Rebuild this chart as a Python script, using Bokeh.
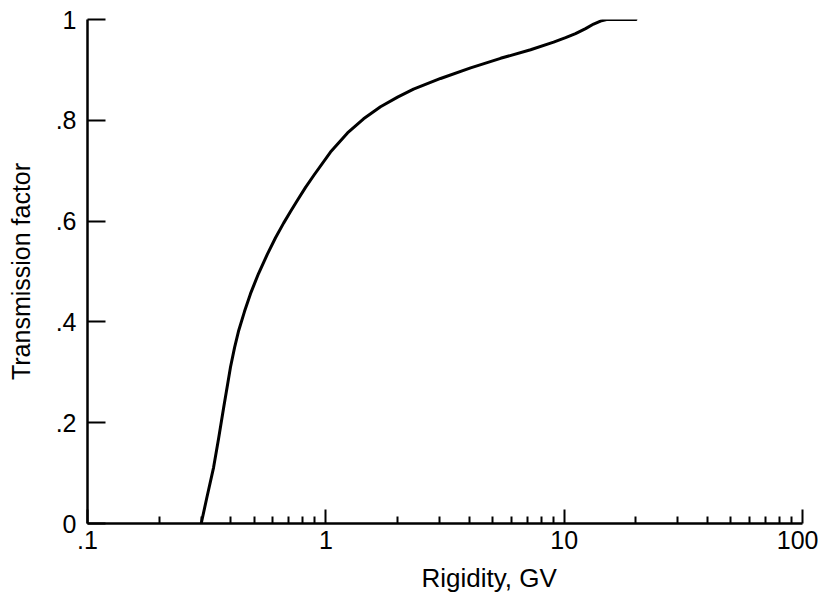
from bokeh.plotting import figure
from bokeh.models import Range1d, FixedTicker, Title
from bokeh.embed import file_html
from bokeh.resources import INLINE

# Data
rigidity = [0.30, 0.317, 0.338, 0.355, 0.373, 0.387, 0.398, 0.414, 0.431, 0.456,
            0.483, 0.522, 0.568, 0.615, 0.665, 0.711, 0.759, 0.822, 0.891, 1.046,
            1.233, 1.440, 1.696, 2.00, 2.333, 3.03, 4.05, 5.41, 7.23, 9.03,
            10.14, 11.16, 12.30, 13.29, 14.21, 15.06, 20.0]
transmission = [0.0, 0.052, 0.111, 0.169, 0.231, 0.276, 0.310, 0.349, 0.383, 0.421,
                0.456, 0.496, 0.534, 0.567, 0.596, 0.619, 0.641, 0.667, 0.691, 0.737,
                0.775, 0.803, 0.827, 0.846, 0.862, 0.883, 0.904, 0.923, 0.940, 0.955,
                0.964, 0.972, 0.982, 0.991, 0.997, 1.0, 1.0]

x_ticks = [0.1, 1, 10, 100]
x_tick_labels = [".1", "1", "10", "100"]
x_minor_ticks = [0.2, 0.3, 0.4, 0.5, 0.6, 0.7, 0.8, 0.9,
                 2, 3, 4, 5, 6, 7, 8, 9,
                 20, 30, 40, 50, 60, 70, 80, 90]
y_ticks = [0, 0.2, 0.4, 0.6, 0.8, 1]
y_tick_labels = ["0", ".2", ".4", ".6", ".8", "1"]
x_title = "Rigidity, GV"
y_title = "Transmission factor"

FONT = "Liberation Sans"
FS = "25px"

p = figure(width=818, height=606, x_axis_type="log",
           x_range=Range1d(0.1, 100), y_range=Range1d(0, 1),
           output_backend="svg", toolbar_location=None,
           min_border_left=87, min_border_right=16,
           min_border_top=19, min_border_bottom=83)
p.grid.visible = False
p.outline_line_color = None
p.background_fill_color = "white"
p.border_fill_color = "white"

p.line(rigidity, transmission, line_color="black", line_width=3,
       line_join="round", line_cap="round")

xa = p.xaxis[0]
xa.ticker = FixedTicker(ticks=x_ticks, minor_ticks=x_minor_ticks)
xa.major_label_overrides = {t: l for t, l in zip(x_ticks, x_tick_labels)}
xa.major_tick_in = 14
xa.major_tick_out = 0
xa.minor_tick_in = 7
xa.minor_tick_out = 0
xa.axis_line_width = 2.5
xa.major_tick_line_width = 2
xa.minor_tick_line_width = 2
xa.axis_line_color = "black"
xa.major_tick_line_color = "black"
xa.minor_tick_line_color = "black"
xa.major_label_text_font = FONT
xa.major_label_text_font_size = FS
xa.major_label_text_color = "black"
xa.major_label_standoff = 7

ya = p.yaxis[0]
ya.ticker = FixedTicker(ticks=y_ticks, minor_ticks=[])
ya.major_label_overrides = {t: l for t, l in zip(y_ticks, y_tick_labels)}
ya.major_tick_in = 18
ya.major_tick_out = 0
ya.minor_tick_line_color = None
ya.axis_line_width = 2.5
ya.major_tick_line_width = 2
ya.axis_line_color = "black"
ya.major_tick_line_color = "black"
ya.major_label_text_font = FONT
ya.major_label_text_font_size = FS
ya.major_label_text_color = "black"
ya.major_label_standoff = 11
ya.axis_label = y_title
ya.axis_label_text_font = FONT
ya.axis_label_text_font_size = FS
ya.axis_label_text_font_style = "normal"
ya.axis_label_text_color = "black"
ya.axis_label_standoff = 18

xt = Title(text=x_title, align="left", offset=334,
           text_font=FONT, text_font_size="26px", text_font_style="normal",
           text_color="black", standoff=19)
p.add_layout(xt, "below")

open("out.html", "w").write(file_html(p, INLINE))
